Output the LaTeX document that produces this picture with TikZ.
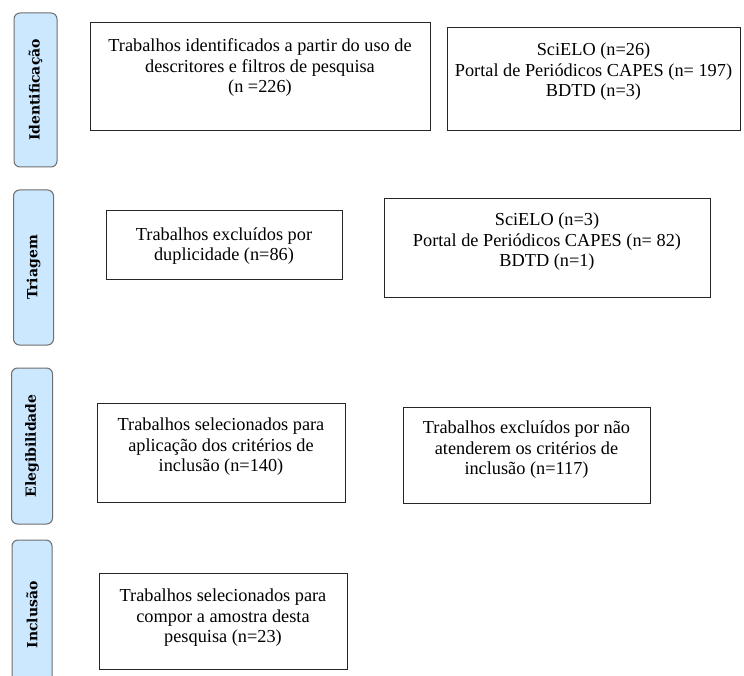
\documentclass[tikz,border=0pt]{standalone}
\usepackage{fontspec}
\setmainfont{Liberation Serif}
\newfontfamily\phasefont{DejaVu Serif}
\usepackage{tikz}
\definecolor{phasefill}{RGB}{204,232,255}
\definecolor{phaseline}{RGB}{110,110,110}

\begin{document}
\begin{tikzpicture}[x=1pt, y=-1pt,
	every node/.style={font=\fontsize{18.3}{20.5}\selectfont},
	frame/.style={draw=black!85, line width=0.8pt, inner sep=0pt},
	txt/.style={align=center, inner sep=0pt},
	phase/.style={draw=phaseline, fill=phasefill, line width=1pt, rounded corners=6pt, rotate=90, inner sep=0pt, font=\phasefont\bfseries\fontsize{14}{15}\selectfont}]
	\clip (0,0) rectangle (744,676);
	\node[phase, minimum width=154pt, minimum height=43pt] (fid) at (35.5,90) {Identificação};
	\node[phase, minimum width=155pt, minimum height=40pt] (ftri) at (33.5,267.5) {Triagem};
	\node[phase, minimum width=156pt, minimum height=41pt] (fele) at (32,446) {Elegibilidade};
	\node[phase, minimum width=150pt, minimum height=40pt] (finc) at (32,615) {Inclusão};
	\node[frame, minimum width=340pt, minimum height=108pt] (ident) at (260,76) {};
	\node[txt] (identt) at ([yshift=8pt]ident.center) {Trabalhos identificados a partir do uso de\\ descritores e filtros de pesquisa\\ (n =226)};
	\node[frame, minimum width=293pt, minimum height=103pt] (idsrc) at (593.5,78.5) {};
	\node[txt] (idsrct) at ([yshift=6.5pt]idsrc.center) {SciELO (n=26)\\ Portal de Periódicos CAPES (n= 197)\\ BDTD (n=3)};
	\node[frame, minimum width=236pt, minimum height=69pt] (dup) at (224,244.5) {};
	\node[txt] (dupt) at ([yshift=-1.5pt]dup.center) {Trabalhos excluídos por\\ duplicidade (n=86)};
	\node[frame, minimum width=326pt, minimum height=99pt] (trisrc) at (547,247.5) {};
	\node[txt] (trisrct) at ([yshift=5.5pt]trisrc.center) {SciELO (n=3)\\ Portal de Periódicos CAPES (n= 82)\\ BDTD (n=1)};
	\node[frame, minimum width=248pt, minimum height=99pt] (selec) at (221,452.5) {};
	\node[txt] (select) at ([yshift=5.5pt]selec.center) {Trabalhos selecionados para\\ aplicação dos critérios de\\ inclusão (n=140)};
	\node[frame, minimum width=247pt, minimum height=96pt] (excl) at (526.5,455) {};
	\node[txt] (exclt) at ([yshift=5pt]excl.center) {Trabalhos excluídos por não\\ atenderem os critérios de\\ inclusão (n=117)};
	\node[frame, minimum width=248pt, minimum height=96pt] (amostra) at (223,621) {};
	\node[txt] (amostrat) at ([yshift=3pt]amostra.center) {Trabalhos selecionados para\\ compor a amostra desta\\ pesquisa (n=23)};
\end{tikzpicture}
\end{document}
